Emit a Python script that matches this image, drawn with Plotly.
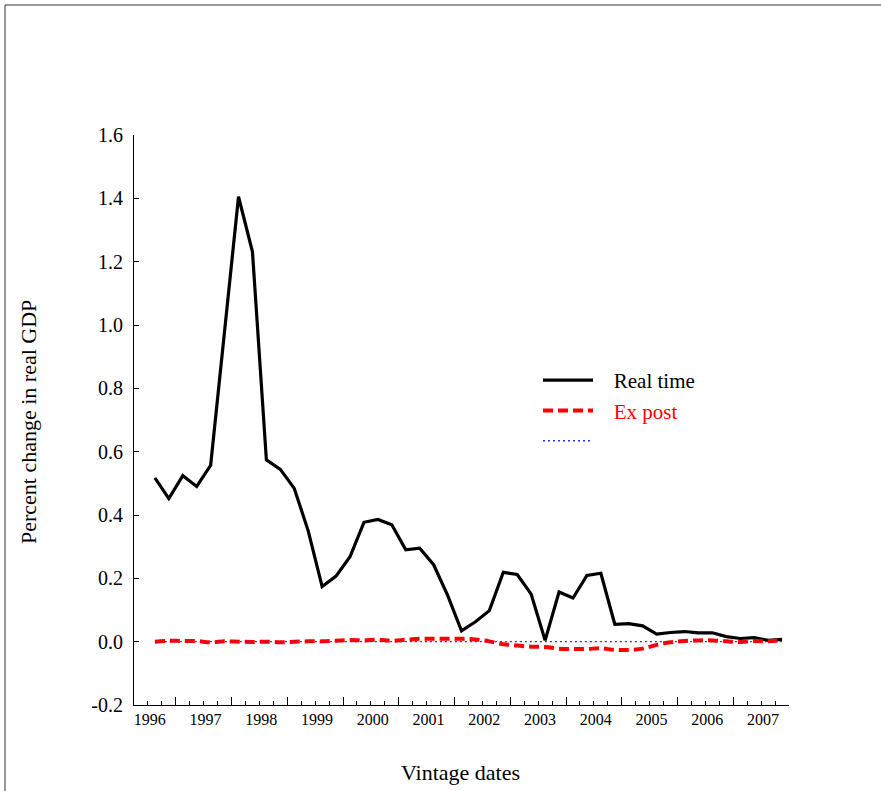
import plotly.graph_objects as go

# Quarterly vintages, 1996Q2 .. 2007Q3 (46 observations)
year_labels = ["1996", "1997", "1998", "1999", "2000", "2001",
               "2002", "2003", "2004", "2005", "2006", "2007"]

real_time = [0.517, 0.452, 0.524, 0.490, 0.557, 0.985, 1.405, 1.231, 0.574, 0.544,
             0.484, 0.350, 0.174, 0.207, 0.268, 0.377, 0.386, 0.369, 0.290, 0.295,
             0.243, 0.147, 0.034, 0.063, 0.098, 0.219, 0.212, 0.150, 0.004, 0.157,
             0.138, 0.209, 0.216, 0.055, 0.057, 0.050, 0.024, 0.029, 0.032, 0.028,
             0.028, 0.016, 0.010, 0.013, 0.004, 0.007]

ex_post = [0.000, 0.003, 0.002, 0.002, -0.002, 0.001, 0.000, -0.001, 0.000, -0.002,
           0.000, 0.001, 0.001, 0.003, 0.005, 0.004, 0.006, 0.003, 0.006, 0.009,
           0.009, 0.009, 0.009, 0.007, 0.001, -0.008, -0.012, -0.016, -0.017, -0.022,
           -0.023, -0.023, -0.021, -0.026, -0.026, -0.022, -0.010, -0.002, 0.002, 0.004,
           0.004, 0.001, -0.001, 0.002, 0.001, 0.005]

zero_line = [0.0] * len(real_time)

y_tick_vals = [1.6, 1.4, 1.2, 1.0, 0.8, 0.6, 0.4, 0.2, 0.0, -0.2]
y_tick_text = ["1.6", "1.4", "1.2", "1.0", "0.8", "0.6", "0.4", "0.2", "0.0", "-0.2"]

n_cat = 47                      # category slots on the axis
x_idx = list(range(1, len(real_time) + 1))
major_ticks = [2.5 + 4 * k for k in range(len(year_labels))]
minor_ticks = [k - 0.5 for k in range(n_cat + 1)]

FONT = "Liberation Serif, Times New Roman, serif"
GAP = "\u00a0" * 3

fig = go.Figure()
fig.add_trace(go.Scatter(x=x_idx, y=real_time, mode="lines", name=GAP + "Real time",
                         line=dict(color="black", width=3.2)))
fig.add_trace(go.Scatter(x=x_idx, y=ex_post, mode="lines",
                         name=GAP + "<span style='color:red'>Ex post</span>",
                         line=dict(color="#FF0000", width=4, dash="10px,5px", shape="spline")))
fig.add_trace(go.Scatter(x=x_idx, y=zero_line, mode="lines", name=" ",
                         line=dict(color="#3030FF", width=1.3, dash="2px,3px")))

W, H = 881, 791
L, R, T, B = 134, 92, 135, 86
pw, ph = W - L - R, H - T - B

def px_x(px):
    return (px - L) / pw

def px_y(py):
    return (H - B - py) / ph

fig.update_layout(
    width=W, height=H,
    margin=dict(l=L, r=R, t=T, b=B, pad=0),
    paper_bgcolor="white", plot_bgcolor="white",
    font=dict(family=FONT, color="black"),
    showlegend=True,
    legend=dict(x=px_x(538), y=px_y(360), xanchor="left", yanchor="top",
                bgcolor="rgba(0,0,0,0)", borderwidth=0,
                font=dict(family=FONT, size=21, color="black"),
                itemwidth=50),
    xaxis=dict(range=[-0.5, n_cat - 0.5], showgrid=False, zeroline=False,
               showline=True, linecolor="black", linewidth=1,
               tickmode="array", tickvals=major_ticks, ticktext=year_labels,
               ticks="inside", ticklen=8, tickcolor="black", tickwidth=1,
               ticklabelshift=-26,
               tickfont=dict(family=FONT, size=16),
               minor=dict(tickmode="array", tickvals=minor_ticks, ticks="inside",
                          ticklen=4, tickcolor="black", tickwidth=1, showgrid=False)),
    yaxis=dict(range=[-0.2, 1.6], showgrid=False, zeroline=False,
               showline=True, linecolor="black", linewidth=1,
               tickmode="array", tickvals=y_tick_vals, ticktext=y_tick_text,
               ticks="inside", ticklen=5, tickcolor="black", tickwidth=1,
               ticklabelstandoff=6,
               tickfont=dict(family=FONT, size=20)),
    annotations=[
        dict(text="Percent change in real GDP", textangle=-90, showarrow=False,
             xref="paper", yref="paper", x=px_x(28), y=px_y(422),
             xanchor="center", yanchor="middle", font=dict(family=FONT, size=22)),
        dict(text="Vintage dates", showarrow=False,
             xref="paper", yref="paper", x=px_x(460), y=px_y(772),
             xanchor="center", yanchor="middle", font=dict(family=FONT, size=22)),
    ],
    shapes=[
        dict(type="rect", xref="paper", yref="paper",
             x0=px_x(5), x1=px_x(900), y0=px_y(810), y1=px_y(5),
             line=dict(color="#333333", width=1), fillcolor="rgba(0,0,0,0)", layer="below"),
    ],
)

fig.write_html("out.html")
